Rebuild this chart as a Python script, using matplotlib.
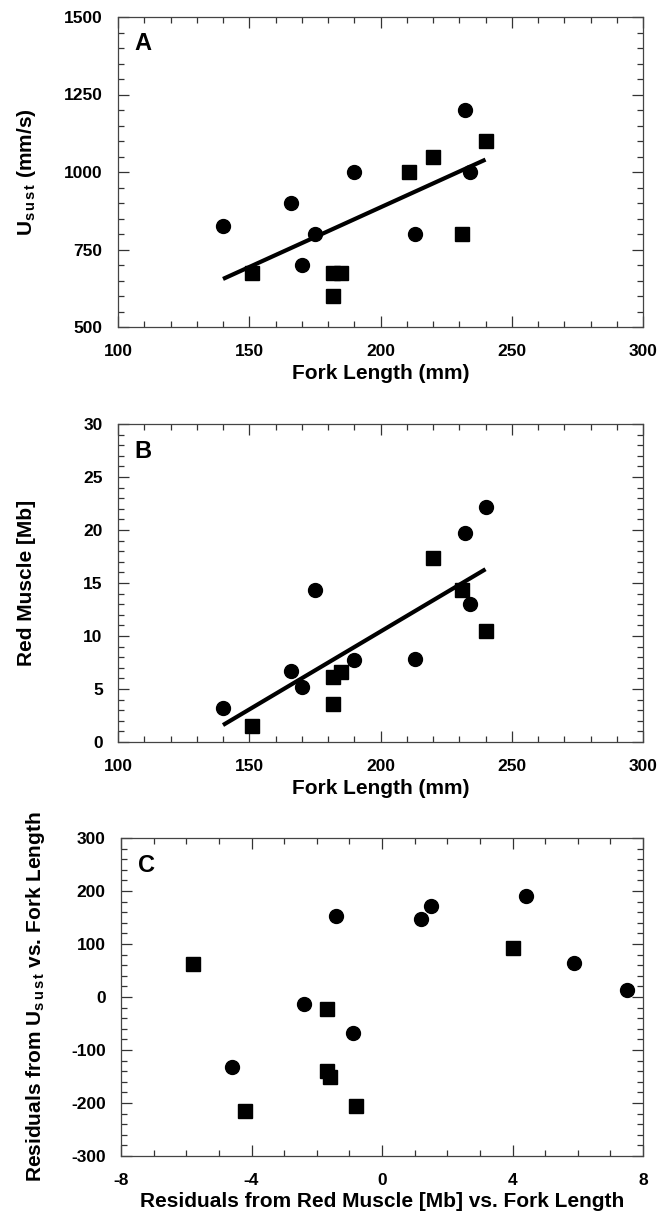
import numpy as np
import matplotlib
matplotlib.use('Agg')
import matplotlib.pyplot as plt
from matplotlib.ticker import MultipleLocator

plt.rcParams['font.family'] = ['Liberation Sans', 'DejaVu Sans']
plt.rcParams['font.weight'] = 'bold'
plt.rcParams['axes.unicode_minus'] = False
plt.rcParams['mathtext.fontset'] = 'custom'
plt.rcParams['mathtext.rm'] = 'Liberation Sans:bold'
plt.rcParams['mathtext.bf'] = 'Liberation Sans:bold'
plt.rcParams['mathtext.it'] = 'Liberation Sans:bold'

# Panel A: sustained speed vs fork length
a_circ_len = [140, 166, 170, 175, 190, 213, 232, 234]
a_circ_u = [825, 900, 700, 800, 1000, 800, 1200, 1000]
a_sq_len = [151, 182, 185, 182, 211, 220, 231, 240]
a_sq_u = [675, 675, 675, 600, 1000, 1050, 800, 1100]
a_fit_len = [140, 240]
a_fit_u = [655, 1040]

# Panel B: red muscle myoglobin vs fork length
b_circ_len = [140, 166, 170, 175, 190, 213, 232, 234, 240]
b_circ_mb = [3.2, 6.7, 5.2, 14.3, 7.7, 7.8, 19.7, 13.0, 22.2]
b_sq_len = [151, 182, 185, 182, 220, 231, 240]
b_sq_mb = [1.5, 6.1, 6.6, 3.6, 17.4, 14.3, 10.5]
b_fit_len = [140, 240]
b_fit_mb = [1.6, 16.3]

# Panel C: residuals vs residuals
c_circ_x = [-4.6, -2.4, -1.4, -0.9, 1.2, 1.5, 4.4, 5.9, 7.5]
c_circ_y = [-133, -14, 153, -68, 147, 171, 191, 65, 13]
c_sq_x = [-5.8, -4.2, -1.7, -1.7, -1.6, -0.8, 4.0]
c_sq_y = [62, -215, -22, -140, -150, -205, 92]

W, H = 665, 1213
fig = plt.figure(figsize=(W / 100, H / 100), dpi=100)

def box(left, top, right, bottom):
    return [left / W, 1 - bottom / H, (right - left) / W, (bottom - top) / H]

ax_a = fig.add_axes(box(118, 17, 643, 327))
ax_b = fig.add_axes(box(118, 424, 643, 742))
ax_c = fig.add_axes(box(121, 838, 643, 1156))

LABEL_FS = 15
TICK_FS = 12.5

def style(ax, xmaj, xmin, ymaj, ymin):
    ax.xaxis.set_major_locator(MultipleLocator(xmaj))
    ax.xaxis.set_minor_locator(MultipleLocator(xmin))
    ax.yaxis.set_major_locator(MultipleLocator(ymaj))
    ax.yaxis.set_minor_locator(MultipleLocator(ymin))
    ax.tick_params(which='both', direction='in', top=True, right=True,
                   labelsize=TICK_FS, width=0.9, color='#333333')
    ax.tick_params(axis='y', pad=11)
    ax.tick_params(axis='x', pad=12)
    ax.tick_params(which='major', length=8)
    ax.tick_params(which='minor', length=4)
    for s in ax.spines.values():
        s.set_linewidth(0.9)
        s.set_color('#444444')
    for lab in ax.get_xticklabels() + ax.get_yticklabels():
        lab.set_fontweight('bold')

ms_c, ms_s = 10, 9.5

ax_a.plot(a_fit_len, a_fit_u, color='black', lw=3, solid_capstyle='butt')
ax_a.plot(a_circ_len, a_circ_u, 'o', color='black', ms=ms_c, ls='none')
ax_a.plot(a_sq_len, a_sq_u, 's', color='black', ms=ms_s, ls='none')
ax_a.set_xlim(100, 300)
ax_a.set_ylim(500, 1500)
style(ax_a, 50, 10, 250, 50)
ax_a.set_xlabel('Fork Length (mm)', fontsize=LABEL_FS, fontweight='bold', labelpad=4)
ax_a.set_ylabel(r'U$_{\mathregular{s\,u\,s\,t}}$ (mm/s)', fontsize=LABEL_FS, fontweight='bold', va='center')
ax_a.yaxis.set_label_coords(-0.175, 0.5)
ax_a.text(0.032, 0.95, 'A', transform=ax_a.transAxes, fontsize=17, fontweight='bold', va='top')

ax_b.plot(b_fit_len, b_fit_mb, color='black', lw=3, solid_capstyle='butt')
ax_b.plot(b_circ_len, b_circ_mb, 'o', color='black', ms=ms_c, ls='none')
ax_b.plot(b_sq_len, b_sq_mb, 's', color='black', ms=ms_s, ls='none')
ax_b.set_xlim(100, 300)
ax_b.set_ylim(0, 30)
style(ax_b, 50, 10, 5, 1)
ax_b.set_xlabel('Fork Length (mm)', fontsize=LABEL_FS, fontweight='bold', labelpad=4)
ax_b.set_ylabel('Red Muscle [Mb]', fontsize=LABEL_FS, fontweight='bold', va='center')
ax_b.yaxis.set_label_coords(-0.175, 0.5)
ax_b.text(0.032, 0.95, 'B', transform=ax_b.transAxes, fontsize=17, fontweight='bold', va='top')

ax_c.plot(c_circ_x, c_circ_y, 'o', color='black', ms=ms_c, ls='none')
ax_c.plot(c_sq_x, c_sq_y, 's', color='black', ms=ms_s, ls='none')
ax_c.set_xlim(-8, 8)
ax_c.set_ylim(-300, 300)
style(ax_c, 4, 1, 100, 20)
ax_c.set_xlabel('Residuals from Red Muscle [Mb] vs. Fork Length', fontsize=LABEL_FS, fontweight='bold', labelpad=3)
ax_c.set_ylabel(r'Residuals from U$_{\mathregular{s\,u\,s\,t}}$ vs. Fork Length', fontsize=LABEL_FS, fontweight='bold', va='center')
ax_c.yaxis.set_label_coords(-0.163, 0.5)
ax_c.text(0.032, 0.95, 'C', transform=ax_c.transAxes, fontsize=17, fontweight='bold', va='top')

fig.savefig('out.png', dpi=100)
